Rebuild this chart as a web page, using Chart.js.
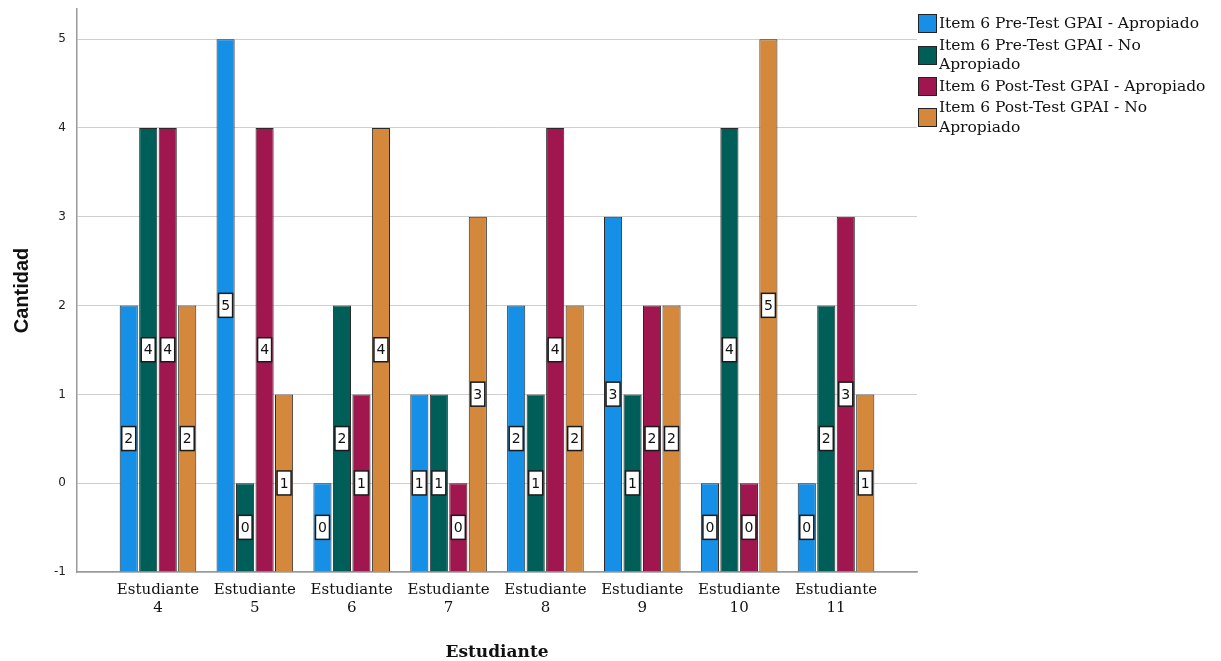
<!DOCTYPE html>
<html>
<head>
<meta charset="utf-8">
<script src="https://cdn.jsdelivr.net/npm/chart.js@4/dist/chart.umd.min.js"></script>
<style>
  html, body { margin: 0; padding: 0; background: #fff; }
  .wrap { position: relative; width: 1221px; height: 661px; }
  #legend {
    position: absolute; left: 918px; top: 14px; width: 303px;
    font-family: "DejaVu Serif", serif; font-size: 15.5px; color: #111;
  }
  .item { display: flex; align-items: center; line-height: 19.5px; margin-bottom: 2px; }
  .box { width: 17px; height: 17px; border: 1px solid #222; margin-right: 2px; flex: none; }
</style>
</head>
<body>
<div class="wrap">
  <canvas id="myChart" width="1221" height="661"></canvas>
  <div id="legend"></div>
</div>
<script>
const students = ['4', '5', '6', '7', '8', '9', '10', '11']
const seriesNames = [
  'Item 6 Pre-Test GPAI - Apropiado',
  'Item 6 Pre-Test GPAI - No Apropiado',
  'Item 6 Post-Test GPAI - Apropiado',
  'Item 6 Post-Test GPAI - No Apropiado'
]
const preApropiado = [2, 5, 0, 1, 2, 3, 0, 0]
const preNoApropiado = [4, 0, 2, 1, 1, 1, 4, 2]
const postApropiado = [4, 4, 1, 0, 4, 2, 0, 3]
const postNoApropiado = [2, 1, 4, 3, 2, 2, 5, 1]
const yTicks = [-1, 0, 1, 2, 3, 4, 5]

const colors = ['#1690e6', '#005e59', '#a0174f', '#d4883c']
const seriesValues = [preApropiado, preNoApropiado, postApropiado, postNoApropiado]

const ctx = document.getElementById('myChart')

// white boxes with the value in the middle of each bar
const valueBoxes = {
  id: 'valueBoxes',
  afterDatasetsDraw(chart) {
    const c = chart.ctx
    c.save()
    c.font = '14px "DejaVu Sans", sans-serif'
    c.textAlign = 'center'
    c.textBaseline = 'middle'
    chart.data.datasets.forEach((ds, di) => {
      chart.getDatasetMeta(di).data.forEach((bar, i) => {
        const mid = (bar.y + bar.base) / 2
        const w = 14, h = 24
        c.fillStyle = '#fff'
        c.fillRect(bar.x - w / 2, mid - h / 2, w, h)
        c.strokeStyle = '#1a1a1a'
        c.lineWidth = 1.5
        c.strokeRect(bar.x - w / 2, mid - h / 2, w, h)
        c.fillStyle = '#111'
        c.fillText(String(ds.data[i].y), bar.x, mid + 1)
      })
    })
    c.restore()
  }
}

const myChart = new Chart(ctx, {
  type: 'bar',
  data: {
    datasets: seriesNames.map((name, k) => ({
      label: name,
      data: seriesValues[k].map((v, i) => ({ x: i, y: v })),
      backgroundColor: colors[k],
      borderColor: '#2a2a2a',
      borderWidth: 1,
      base: -1,
      categoryPercentage: 0.805,
      barPercentage: 0.93
    }))
  },
  options: {
    responsive: false,
    animation: false,
    events: [],
    layout: { padding: { top: 9, right: 304, left: 0, bottom: 0 } },
    plugins: { legend: { display: false }, tooltip: { enabled: false } },
    scales: {
      x: {
        type: 'linear',
        min: -0.836,
        max: 7.836,
        offset: false,
        grid: { display: false, drawTicks: false },
        border: { display: true, color: '#9a9a9a', width: 1.5 },
        afterBuildTicks(scale) {
          scale.ticks = students.map((s, i) => ({ value: i }))
        },
        afterFit(scale) {
          scale.height = 89
          scale.paddingLeft = 0
          scale.paddingRight = 0
        },
        ticks: {
          autoSkip: false,
          maxRotation: 0,
          padding: 9,
          color: '#111',
          font: { family: '"DejaVu Serif", serif', size: 15, lineHeight: 1.2 },
          callback: (v) => ['Estudiante', students[v]]
        },
        title: {
          display: true,
          text: 'Estudiante',
          color: '#111',
          font: { family: '"DejaVu Serif", serif', size: 17, weight: 'bold', lineHeight: 1 },
          padding: { top: 0, bottom: 0 }
        }
      },
      y: {
        min: -1,
        max: 5.34,
        grid: { color: '#cfcfcf', lineWidth: 1, drawTicks: false },
        border: { display: true, color: '#9a9a9a', width: 1.5 },
        afterBuildTicks(scale) {
          scale.ticks = yTicks.map(v => ({ value: v }))
        },
        afterFit(scale) {
          scale.width = 77
          scale.paddingTop = 0
          scale.paddingBottom = 0
        },
        ticks: {
          padding: 11,
          color: '#222',
          font: { family: '"DejaVu Sans", sans-serif', size: 12 }
        },
        title: {
          display: true,
          text: 'Cantidad',
          color: '#111',
          font: { family: '"Liberation Sans", Arial, sans-serif', size: 20, weight: 'bold', lineHeight: 1.2 },
          padding: { top: 10, bottom: 0 }
        }
      }
    }
  },
  plugins: [valueBoxes]
})

const legend = document.getElementById('legend')
seriesNames.forEach((name, k) => {
  const item = document.createElement('div')
  item.className = 'item'
  item.innerHTML = '<span class="box" style="background:' + colors[k] + '"></span><span>' + name + '</span>'
  legend.appendChild(item)
})
</script>
</body>
</html>
